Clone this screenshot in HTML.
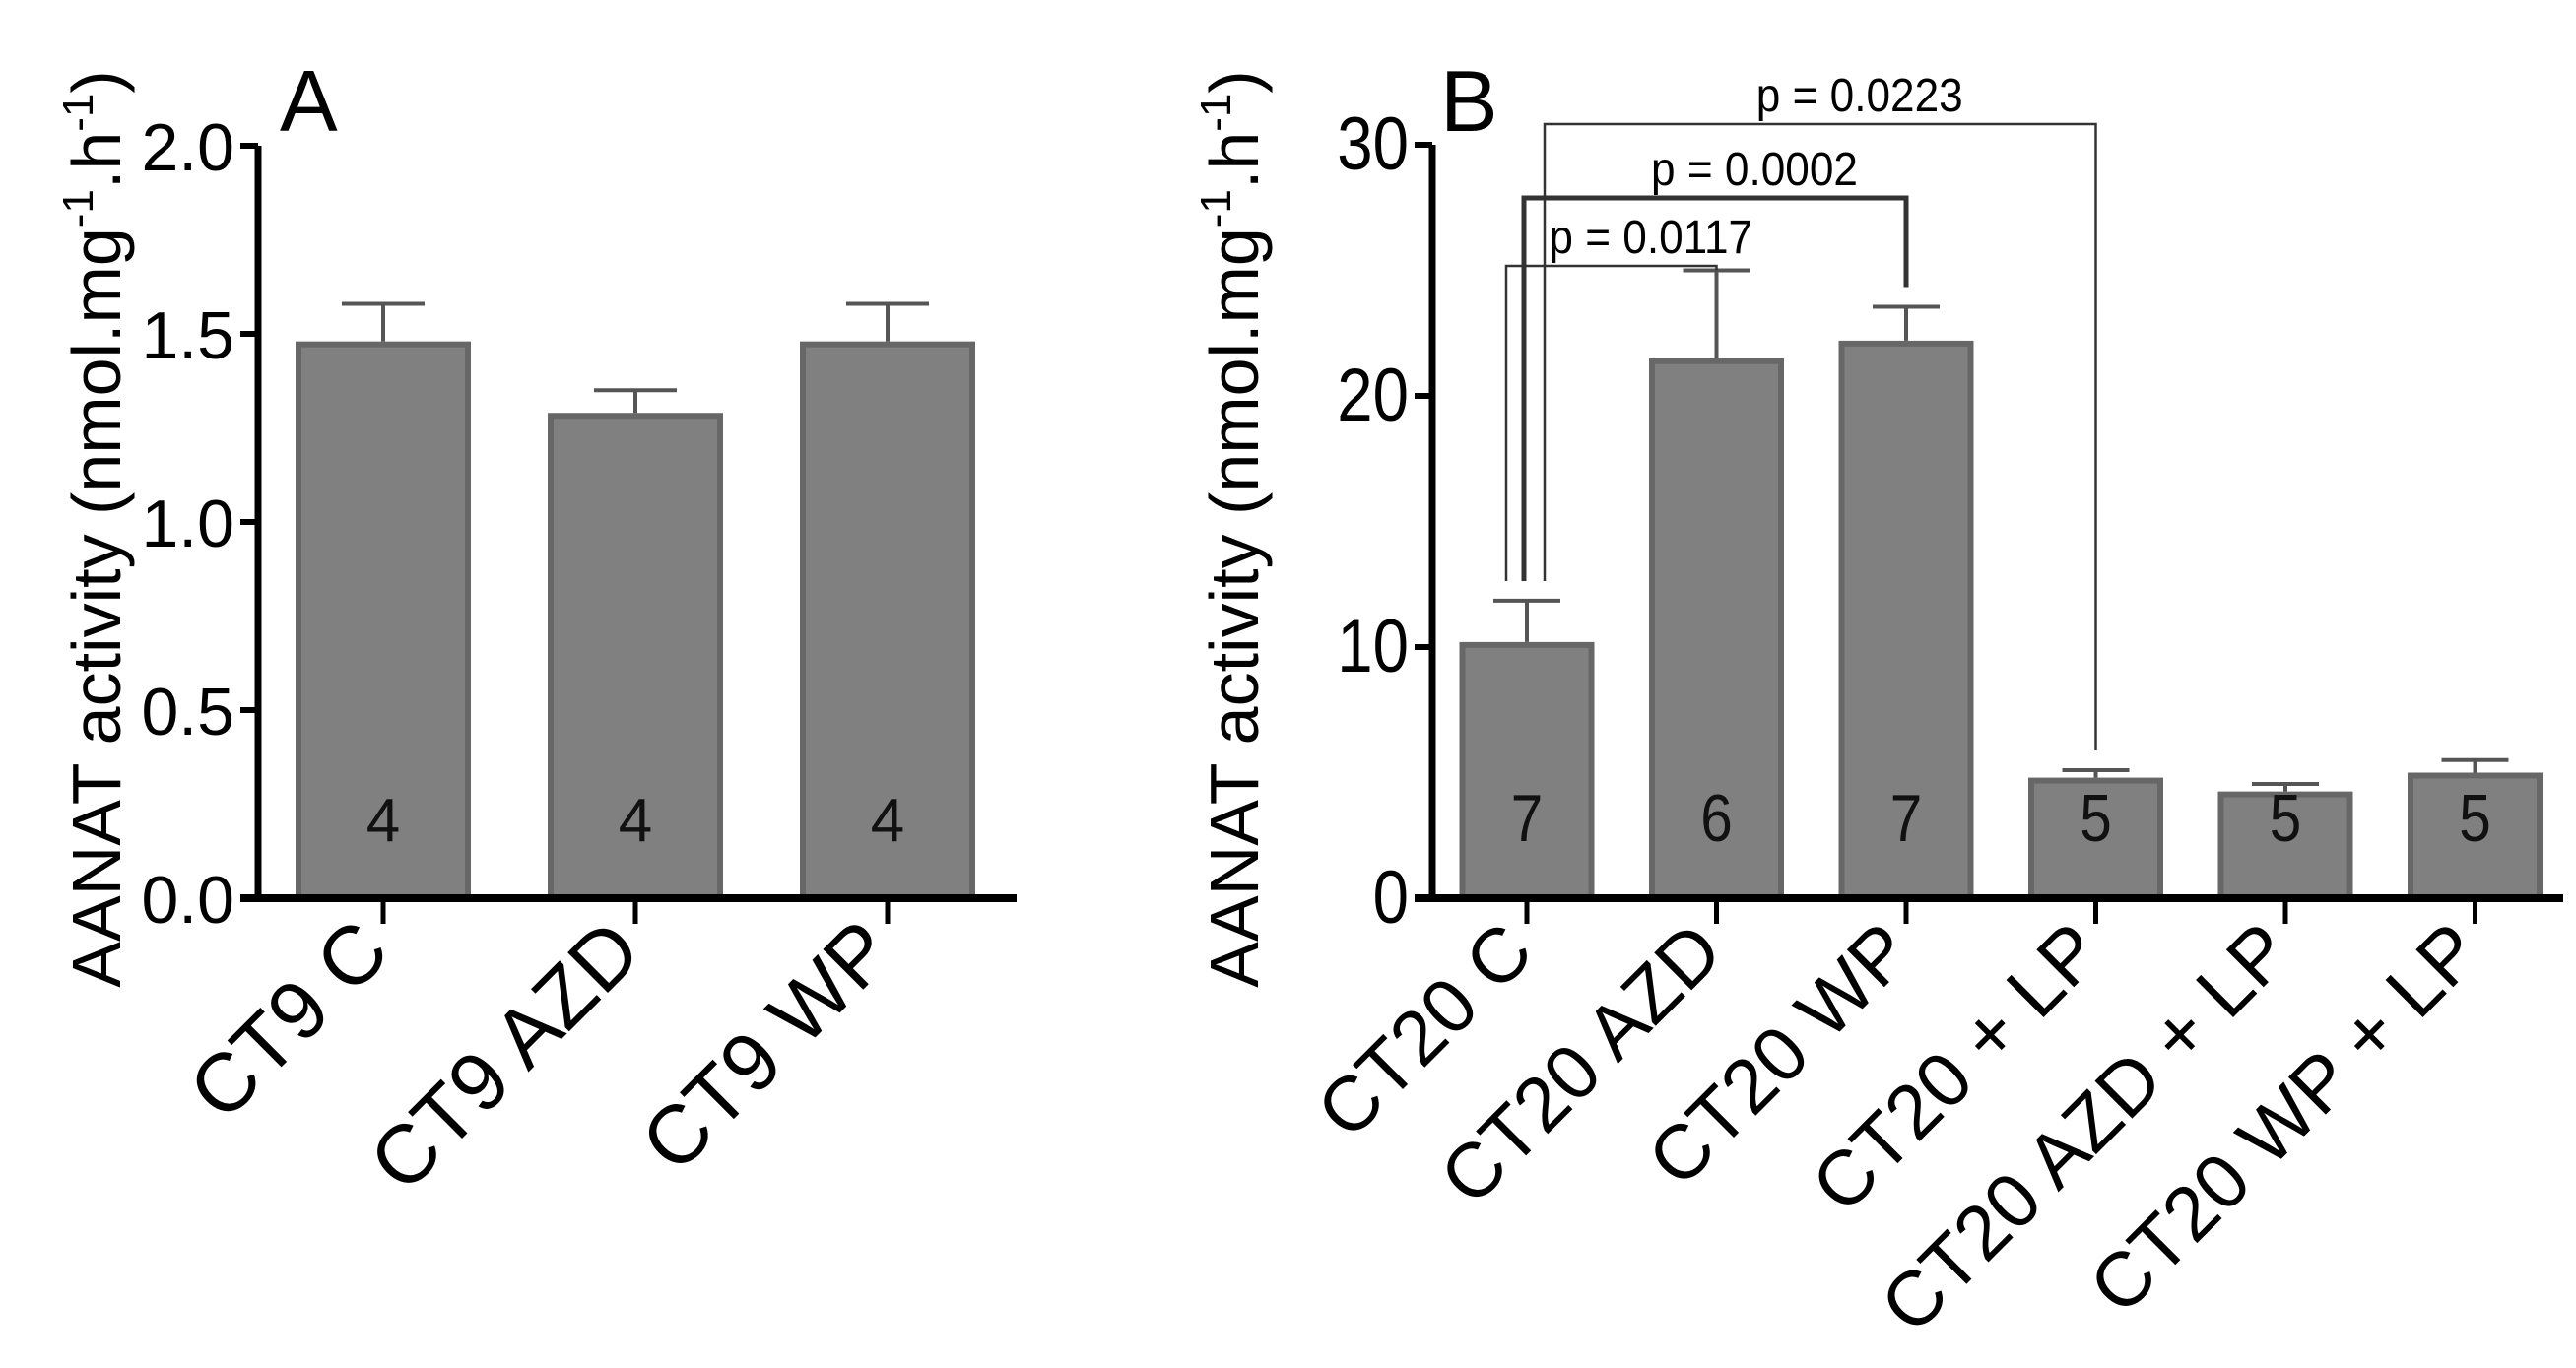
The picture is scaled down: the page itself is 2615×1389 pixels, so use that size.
<!DOCTYPE html>
<html><head><meta charset="utf-8"><style>
body{margin:0;background:#fff}
svg{display:block;font-family:"Liberation Sans",Arial,sans-serif}
</style></head><body>
<svg id="chart" width="2615" height="1389" viewBox="0 0 2615 1389" xmlns="http://www.w3.org/2000/svg">
<g id="pa"></g>
<g id="pb"></g>
</svg>
<script>
const catsA = ["CT9 C","CT9 AZD","CT9 WP"];
const valsA = [1.48, 1.29, 1.48];
const errA = [0.10, 0.06, 0.10];
const nA = ["4","4","4"];
const ticksA = [0, 0.5, 1.0, 1.5, 2.0];
const tickLabelsA = ["0.0","0.5","1.0","1.5","2.0"];

const catsB = ["CT20 C","CT20 AZD","CT20 WP","CT20 + LP","CT20 AZD + LP","CT20 WP + LP"];
const valsB = [10.2, 21.5, 22.2, 4.8, 4.25, 5.0];
const errB = [1.65, 3.5, 1.35, 0.3, 0.3, 0.5];
const nB = ["7","6","7","5","5","5"];
const ticksB = [0, 10, 20, 30];
const tickLabelsB = ["0","10","20","30"];
const sigLabels = ["p = 0.0117","p = 0.0002","p = 0.0223"];
const sigPairs = [[0,1],[0,2],[0,3]];

const NS = "http://www.w3.org/2000/svg";
function mk(parent, tag, attrs, text){
  const e = document.createElementNS(NS, tag);
  for (const k in attrs) e.setAttribute(k, attrs[k]);
  if (text !== undefined) e.textContent = text;
  parent.appendChild(e);
  return e;
}

function panel(g, cfg){
  const y = v => cfg.y0 - (v - 0) / cfg.ymax * (cfg.y0 - cfg.ytop);
  const x = i => cfg.x1 + cfg.first + i * cfg.step;
  cfg.vals.forEach((v,i)=>{
    const r = mk(g,"rect",{x:x(i)-cfg.bw/2+3,y:y(v)+3,width:cfg.bw-6,height:cfg.y0-y(v)-3,fill:"#808080",stroke:"#676767","stroke-width":6});
    
    
    const top = y(v + cfg.err[i]);
    const eb = mk(g,"path",{d:`M${x(i)} ${y(v)} V${top} M${x(i)-cfg.cap} ${top} H${x(i)+cfg.cap}`,stroke:"#555","stroke-width":4,fill:"none"});
    
    
    const t = mk(g,"text",{x:x(i),y:cfg.y0-58,"font-size":cfg.nfs,"text-anchor":"middle",fill:"#111",transform:cfg.sx?`translate(${x(i)} 0) scale(${cfg.sx} 1) translate(${-x(i)} 0)`:""},cfg.n[i]);
    
    
    const tk = mk(g,"line",{x1:x(i),x2:x(i),y1:cfg.y0,y2:cfg.y0+26,stroke:"#000","stroke-width":5});
    
    
    const lx = x(i)+10, ly = cfg.y0+58;
    const xl = mk(g,"text",{x:lx,y:ly,"font-size":cfg.xfs,"text-anchor":"end",transform:`rotate(-45 ${lx} ${ly})`},cfg.cats[i]);
    
    
  });
  const ya = mk(g,"line",{x1:cfg.x1,x2:cfg.x1,y1:cfg.ytop,y2:cfg.y0+3,stroke:"#000","stroke-width":7});
  
  
  const xa = mk(g,"line",{x1:cfg.x1-18,x2:cfg.xend,y1:cfg.y0,y2:cfg.y0,stroke:"#000","stroke-width":8});
  
  
  cfg.ticks.forEach((tv,i)=>{
    const l = mk(g,"line",{x1:cfg.x1-18,x2:cfg.x1,y1:y(tv),y2:y(tv),stroke:"#000","stroke-width":6});
    
    
    const tx = cfg.x1-24;
    const t = mk(g,"text",{x:tx,y:y(tv)+25,"font-size":cfg.tfs,"text-anchor":"end",transform:cfg.sx?`translate(${tx} 0) scale(${cfg.sx} 1) translate(${-tx} 0)`:""},cfg.tickLabels[i]);
    
    
  });
  const tt = mk(g,"text",{x:0,y:0,"font-size":70,"text-anchor":"middle",transform:`translate(${cfg.titleX} 537) rotate(-90)`});
  
  
  tt.innerHTML = 'AANAT activity (nmol.mg<tspan font-size="44" dy="-28">-1</tspan><tspan dy="28">.h</tspan><tspan font-size="44" dy="-28">-1</tspan><tspan dy="28">)</tspan>';
  const pl = mk(g,"text",{x:cfg.letterX,y:133,"font-size":88},cfg.letter);
  
  
  return {x,y};
}

panel(document.getElementById('pa'),{x1:262,xend:1032,y0:912,ytop:148,ymax:2.0,first:127,step:256,bw:178,cap:42,
  vals:valsA,err:errA,n:nA,cats:catsA,ticks:ticksA,tickLabels:tickLabelsA,tfs:68,nfs:62,xfs:84,titleX:122,letter:"A",letterX:284});
const B = panel(document.getElementById('pb'),{x1:1454,xend:2602,y0:912,ytop:147,ymax:30,first:96,step:192.5,bw:137,cap:34,
  vals:valsB,err:errB,n:nB,cats:catsB,ticks:ticksB,tickLabels:tickLabelsB,tfs:76,nfs:68,xfs:78,sx:0.86,titleX:1277,letter:"B",letterX:1462});

const gb = document.getElementById('pb');
const brLineY = [270, 201, 126];
const brLeftX = [1529, 1547, 1568];
const brW = [2.5, 5, 2.5];
sigPairs.forEach((p,k)=>{
  const xr = B.x(p[1]);
  const yr = B.y(valsB[p[1]]+errB[p[1]]) - (k===1?20:(k===2?20:0));
  const path = mk(gb,"path",{d:`M${brLeftX[k]} 590 V${brLineY[k]} H${xr} V${yr}`,fill:"none",stroke:"#333","stroke-width":brW[k]});
  
  
  const cx = (brLeftX[k]+xr)/2 + 40;
  const t = mk(gb,"text",{x:cx,y:brLineY[k]-13,"font-size":48,"text-anchor":"middle",transform:`translate(${cx} 0) scale(0.92 1) translate(${-cx} 0)`},sigLabels[k]);
  
  
});
</script>
</body></html>
